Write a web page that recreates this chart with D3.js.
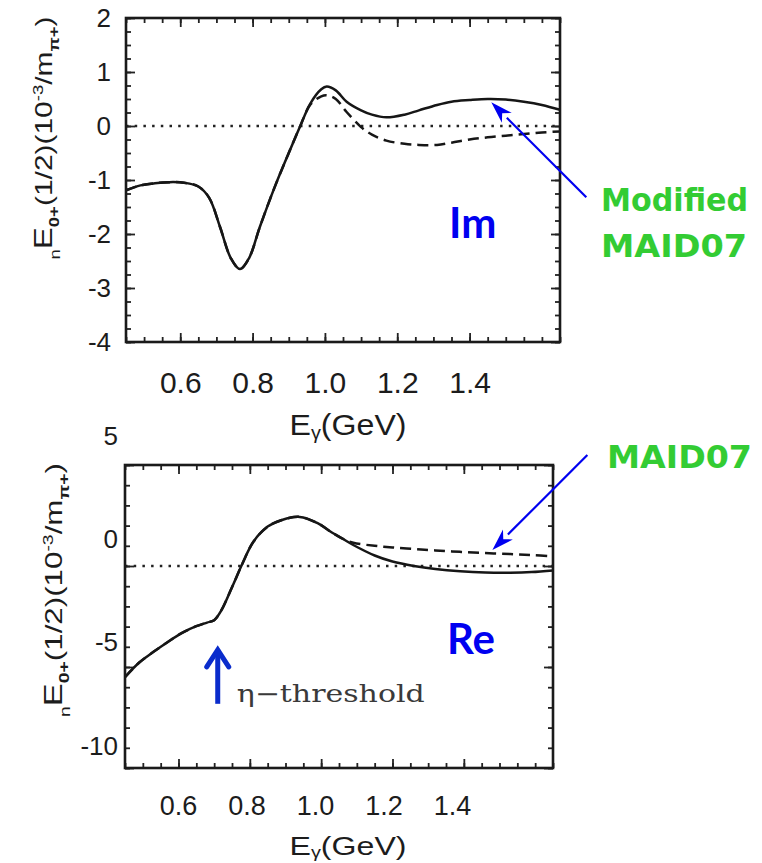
<!DOCTYPE html>
<html>
<head>
<meta charset="utf-8">
<script src="https://cdn.jsdelivr.net/npm/d3@7"></script>
<style>
  body { margin: 0; background: #fff; }
  svg { display: block; }
</style>
</head>
<body>
<svg id="chart" width="762" height="863"></svg>
<script>
// ---- Data: neutron E0+ multipole (1/2 isospin part) vs photon energy ----
// Imaginary part
const imEnergy   = [0.45, 0.49, 0.53, 0.57, 0.61, 0.65, 0.68, 0.71, 0.74, 0.765, 0.79, 0.82, 0.86, 0.90, 0.93, 0.96, 0.99, 1.005, 1.03, 1.06, 1.10, 1.13, 1.17, 1.22, 1.26, 1.31, 1.35, 1.40, 1.45, 1.50, 1.55, 1.60, 1.65];
const imModified = [-1.19, -1.10, -1.06, -1.04, -1.05, -1.12, -1.33, -1.87, -2.45, -2.65, -2.45, -1.87, -1.15, -0.50, -0.03, 0.42, 0.68, 0.73, 0.66, 0.45, 0.29, 0.21, 0.16, 0.21, 0.29, 0.39, 0.45, 0.48, 0.50, 0.49, 0.45, 0.39, 0.30];
const imMaid07   = [-1.19, -1.10, -1.06, -1.04, -1.05, -1.12, -1.33, -1.87, -2.45, -2.65, -2.45, -1.87, -1.15, -0.50, -0.03, 0.40, 0.55, 0.57, 0.50, 0.26, -0.02, -0.16, -0.27, -0.33, -0.35, -0.35, -0.31, -0.25, -0.21, -0.18, -0.15, -0.12, -0.10];

// Real part
const reEnergy   = [0.45, 0.49, 0.53, 0.57, 0.61, 0.65, 0.68, 0.70, 0.72, 0.75, 0.78, 0.81, 0.85, 0.89, 0.94, 0.99, 1.03, 1.06, 1.09, 1.15, 1.20, 1.26, 1.32, 1.39, 1.46, 1.53, 1.59, 1.65];
const reModified = [-5.50, -4.78, -4.25, -3.76, -3.31, -2.98, -2.80, -2.68, -2.20, -1.05, 0.15, 1.20, 1.95, 2.28, 2.43, 2.12, 1.66, 1.35, 1.04, 0.52, 0.22, 0.00, -0.15, -0.26, -0.32, -0.33, -0.30, -0.22];
const reMaid07   = [-5.50, -4.78, -4.25, -3.76, -3.31, -2.98, -2.80, -2.68, -2.20, -1.05, 0.15, 1.20, 1.95, 2.28, 2.43, 2.12, 1.66, 1.35, 1.15, 1.00, 0.92, 0.84, 0.77, 0.70, 0.64, 0.59, 0.54, 0.48];

// Axis ticks
const energyDomain = [0.45, 1.65];
const xTickLabels  = [0.6, 0.8, 1.0, 1.2, 1.4];
const imYTicks     = [2, 1, 0, -1, -2, -3, -4];
const reYTicks     = [5, 0, -5, -10];

const etaThreshold = 0.71;

// ---- Drawing ----
const svg = d3.select("#chart");
const SANS = "'Liberation Sans', Arial, Helvetica, sans-serif";
const INK = "#1c1c1c";

function styleLabels(sel, size) {
  sel.select(".domain").remove();
  sel.attr("font-family", SANS).attr("font-size", size);
  sel.selectAll("text").attr("fill", INK);
}

function drawPanel(p) {
  const g = svg.append("g");
  const x = d3.scaleLinear().domain(energyDomain).range([p.left, p.right]);
  const y = d3.scaleLinear().domain(p.yDomain).range([p.bottom, p.top]);

  // zero reference line
  g.append("line")
    .attr("x1", p.left).attr("x2", p.right)
    .attr("y1", y(0)).attr("y2", y(0))
    .attr("stroke", "#222").attr("stroke-width", 2.4)
    .attr("stroke-dasharray", "2.5,6.2");

  // inward tick marks on all four sides
  const ticks = (axis, tr, values, size) => {
    g.append("g").attr("transform", tr)
      .call(axis.tickValues(values).tickSize(-size).tickFormat(""))
      .call(s => s.select(".domain").remove())
      .selectAll("line").attr("stroke", "#222").attr("stroke-width", 1.8);
  };
  const xMinor = d3.range(9, 34).map(i => +(i * 0.05).toFixed(2));
  ticks(d3.axisBottom(x), `translate(0,${p.bottom})`, xMinor, 5);
  ticks(d3.axisBottom(x), `translate(0,${p.bottom})`, xTickLabels, 9);
  ticks(d3.axisTop(x), `translate(0,${p.top})`, xMinor, 5);
  ticks(d3.axisTop(x), `translate(0,${p.top})`, xTickLabels, 9);
  ticks(d3.axisLeft(y), `translate(${p.left},0)`, p.yMinor, 5);
  ticks(d3.axisLeft(y), `translate(${p.left},0)`, p.yMajor, 9);
  ticks(d3.axisRight(y), `translate(${p.right},0)`, p.yMinor, 5);
  ticks(d3.axisRight(y), `translate(${p.right},0)`, p.yMajor, 9);

  // curves
  const line = d3.line()
    .x((d, i) => x(p.energy[i]))
    .y(d => y(d))
    .curve(d3.curveCatmullRom.alpha(0.5));
  g.append("path").datum(p.maid)
    .attr("d", line).attr("fill", "none")
    .attr("stroke", "#161616").attr("stroke-width", 2.5)
    .attr("stroke-dasharray", "11,6");
  g.append("path").datum(p.modified)
    .attr("d", line).attr("fill", "none")
    .attr("stroke", "#161616").attr("stroke-width", 2.5);

  // frame
  g.append("rect")
    .attr("x", p.left).attr("y", p.top)
    .attr("width", p.right - p.left).attr("height", p.bottom - p.top)
    .attr("fill", "none").attr("stroke", "#1a1a1a").attr("stroke-width", 2.6);

  // tick labels
  g.append("g").attr("transform", `translate(0,${p.bottom})`)
    .call(d3.axisBottom(p.xLabelScale(x)).tickValues(xTickLabels)
      .tickSize(0).tickPadding(p.xPad).tickFormat(d3.format(".1f")))
    .call(s => styleLabels(s, p.xFont));
  g.append("g").attr("transform", `translate(${p.left},0)`)
    .call(d3.axisLeft(p.yLabelScale(y)).tickValues(p.yMajor)
      .tickSize(0).tickPadding(p.yPad).tickFormat(d => String(d)))
    .call(s => styleLabels(s, p.yFont));

  // x-axis title: E_gamma (GeV)
  const xt = g.append("text")
    .attr("x", p.xTitle[0]).attr("y", p.xTitle[1])
    .attr("text-anchor", "middle")
    .attr("font-family", SANS).attr("font-size", p.xTitleFont).attr("fill", INK)
    .attr("textLength", 117).attr("lengthAdjust", "spacingAndGlyphs");
  xt.append("tspan").text("E");
  xt.append("tspan").attr("font-size", "0.62em").attr("dy", "0.2em").text("γ");
  xt.append("tspan").attr("dy", "-0.12em").text("(GeV)");

  // y-axis title: nE0+(1/2) (10^-3 / m_pi+)
  const yt = g.append("text")
    .attr("transform", `translate(${p.yTitle[0]},${p.yTitle[1]}) rotate(-90)`)
    .attr("text-anchor", "middle")
    .attr("font-family", SANS).attr("font-size", p.yTitleFont).attr("fill", INK)
    .attr("textLength", p.yTitleLen).attr("lengthAdjust", "spacingAndGlyphs");
  const fs = p.yTitleFont;
  const parts = [
    { t: "n", s: 0.62, dy: 0.32 * fs },
    { t: "E", s: 1.1, dy: 0 },
    { t: "0+", s: 0.62, dy: 0.3 * fs, bold: true },
    { t: "(1/2)(10", s: 1, dy: 0 },
    { t: "-3", s: 0.62, dy: -0.38 * fs },
    { t: "/m", s: 1, dy: 0 },
    { t: "π+", s: 0.62, dy: 0.3 * fs, bold: true },
    { t: ")", s: 1, dy: 0 }
  ];
  let cur = 0;
  parts.forEach(q => {
    yt.append("tspan")
      .attr("font-size", q.s * fs)
      .attr("font-weight", q.bold ? 700 : 400)
      .attr("dy", q.dy - cur)
      .text(q.t);
    cur = q.dy;
  });

  return { x, y };
}

const im = drawPanel({
  left: 126, right: 560, top: 18, bottom: 342,
  yDomain: [-4, 2],
  yMajor: imYTicks,
  yMinor: d3.range(-16, 9).map(i => i * 0.25),
  energy: imEnergy, modified: imModified, maid: imMaid07,
  xLabelScale: x => x,
  yLabelScale: y => y,
  xPad: 30, xFont: 30, yPad: 15, yFont: 26,
  xTitle: [348, 435], xTitleFont: 30,
  yTitle: [52, 138], yTitleFont: 24, yTitleLen: 243
});

const re = drawPanel({
  left: 125, right: 553, top: 465, bottom: 768,
  yDomain: [-10, 5],
  yMajor: reYTicks,
  yMinor: d3.range(-10, 6),
  energy: reEnergy, modified: reModified, maid: reMaid07,
  // tick labels of this panel sit on their own slightly shifted scales
  xLabelScale: () => d3.scaleLinear().domain([0.6, 1.4]).range([178, 452]),
  yLabelScale: () => d3.scaleLinear().domain([5, -10]).range([436, 746]),
  xPad: 28, xFont: 27, yPad: 7, yFont: 26,
  xTitle: [348, 855], xTitleFont: 26,
  yTitle: [62, 590], yTitleFont: 24, yTitleLen: 254
});

// ---- Annotations ----
const BLUE = "#0000f0";
const GREEN = "#33cc33";

function thinArrow(tipX, tipY, dx, dy) {
  const tailX = tipX + dx, tailY = tipY + dy;
  const len = Math.hypot(dx, dy);
  const ux = dx / len, uy = dy / len;
  const headL = 22, headW = 7;
  const bx = tipX + ux * headL, by = tipY + uy * headL;
  svg.append("line")
    .attr("x1", tailX).attr("y1", tailY).attr("x2", bx).attr("y2", by)
    .attr("stroke", BLUE).attr("stroke-width", 2.2);
  svg.append("path")
    .attr("d", `M${tipX},${tipY} L${bx - uy * headW},${by + ux * headW} L${tipX + ux * headL * 0.7},${tipY + uy * headL * 0.7} L${bx + uy * headW},${by - ux * headW} Z`)
    .attr("fill", BLUE);
}

// Modified MAID07 (top panel, solid curve)
thinArrow(im.x(1.46), im.y(0.44), 95, 95);
// MAID07 (bottom panel, dashed curve)
thinArrow(re.x(1.48), re.y(0.79), 95, -95);

function greenLabel(lines, x, y0, lh) {
  lines.forEach((l, i) => {
    svg.append("text")
      .attr("x", x).attr("y", y0 + i * lh)
      .attr("font-family", "'DejaVu Sans', sans-serif")
      .attr("font-weight", 700).attr("font-size", 32)
      .attr("fill", GREEN)
      .attr("textLength", l.w).attr("lengthAdjust", "spacingAndGlyphs")
      .text(l.t);
  });
}
greenLabel([{ t: "Modified", w: 147 }, { t: "MAID07", w: 146 }], 601, 211, 46);
greenLabel([{ t: "MAID07", w: 145 }], 607, 468, 0);

function partLabel(t, x, y) {
  svg.append("text")
    .attr("x", x).attr("y", y)
    .attr("font-family", "Lato, 'Open Sans', sans-serif")
    .attr("font-weight", 700).attr("font-size", 42)
    .attr("fill", BLUE)
    .text(t);
}
partLabel("Im", 449, 238);
partLabel("Re", 447, 654);

// eta threshold marker
const ex = re.x(etaThreshold), ey = re.y(-4.05);
const etaBlue = "#0a2ccc";
svg.append("line")
  .attr("x1", ex).attr("y1", ey + 2).attr("x2", ex).attr("y2", ey + 56)
  .attr("stroke", etaBlue).attr("stroke-width", 5);
svg.append("path")
  .attr("d", `M${ex - 11},${ey + 19} L${ex},${ey + 2} L${ex + 11},${ey + 19}`)
  .attr("fill", "none").attr("stroke", etaBlue).attr("stroke-width", 5)
  .attr("stroke-linejoin", "miter").attr("stroke-linecap", "round");
svg.append("text")
  .attr("x", ex + 19).attr("y", ey + 54)
  .attr("font-family", "'DejaVu Serif', 'Liberation Serif', serif")
  .attr("font-size", 24).attr("fill", "#3a3a3a")
  .attr("textLength", 188).attr("lengthAdjust", "spacingAndGlyphs")
  .text("η−threshold");
</script>
</body>
</html>
